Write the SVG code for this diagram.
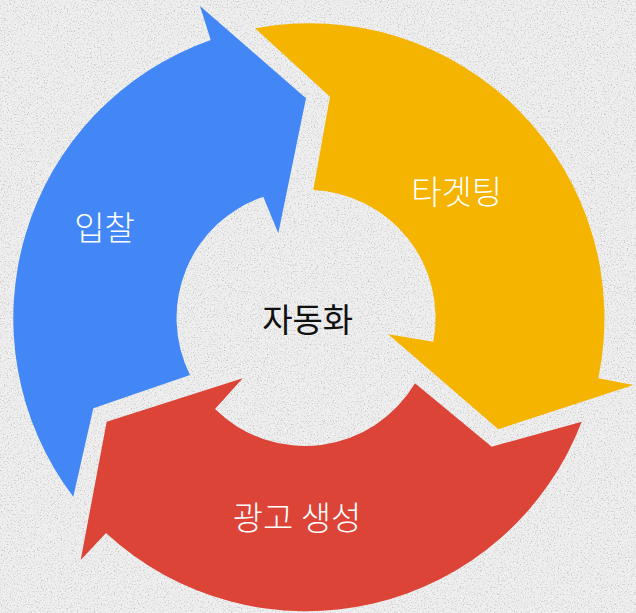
<svg xmlns="http://www.w3.org/2000/svg" width="636" height="613" viewBox="0 0 636 613">
  <style>
    .lbl { font-family: "Noto Sans CJK KR", "Noto Sans", sans-serif; font-size: 33px; font-weight: 300; fill: #ffffff; text-anchor: middle; }
    .ctr { font-family: "Noto Sans CJK KR", "Noto Sans", sans-serif; font-size: 33px; font-weight: 400; fill: #111111; text-anchor: middle; }
  </style>
  <defs>
    <filter id="tex" x="0" y="0" width="636" height="613" filterUnits="userSpaceOnUse">
      <feTurbulence type="fractalNoise" baseFrequency="0.7" numOctaves="3" seed="7" result="n"/>
      <feColorMatrix in="n" type="matrix" values="0 0 0 0 0.5  0 0 0 0 0.5  0 0 0 0 0.5  2.6 0 0 0 -1.35"/>
    </filter>
  </defs>
  <g id="background">
    <rect x="0" y="0" width="636" height="613" fill="#efefef"/>
    <rect x="0" y="0" width="636" height="613" filter="url(#tex)"/>
  </g>
  <g id="node-bid">
    <path fill="#4287f5" d="M 73.3,496.7 A 295 295 0 0 1 210.7,40 L 200,6 L 306,98.3 L 278.3,233.3 L 263.3,196.7 A 128 128 0 0 0 190,375 L 93.3,408.3 Z"/>
    <text class="lbl" x="104.5" y="240">입찰</text>
  </g>
  <g id="node-targeting">
    <path fill="#f4b400" d="M 255,28.3 A 295 295 0 0 1 598.3,378.3 L 633.3,385 L 498.3,429.3 L 388.3,334.3 L 433.3,341.7 A 128 128 0 0 0 313.3,190 L 330,96.7 Z"/>
    <text class="lbl" x="456.7" y="203.5">타겟팅</text>
  </g>
  <g id="node-adgen">
    <path fill="#db4437" d="M 581.7,421.7 A 295 295 0 0 1 106,533 L 80.7,560 L 106.7,421.7 L 242.7,378.3 L 215,409 A 128 128 0 0 0 415,383.3 L 491.7,446.7 Z"/>
    <text class="lbl" x="297" y="530">광고 생성</text>
  </g>
  <g id="node-center">
    <text class="ctr" x="307.7" y="331.5">자동화</text>
  </g>
</svg>
